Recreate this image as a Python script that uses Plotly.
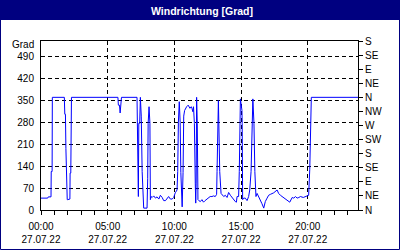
import plotly.graph_objects as go

# ---- data ----
day = "2022-07-27"
times = [
    "00:00", "00:30", "00:33", "00:45", "00:46", "00:50", "00:51", "01:45", "01:47", "01:50",
    "01:52", "01:55", "01:58", "02:00", "02:10", "02:11", "02:14", "02:17", "05:46", "05:48",
    "05:53", "05:56", "06:02", "07:12", "07:14", "07:16", "07:18", "07:20", "07:24", "07:27",
    "07:31", "07:35", "07:38", "07:42", "07:57", "08:00", "08:02", "08:06", "08:10", "08:12",
    "08:15", "08:20", "08:27", "08:35", "08:42", "08:50", "08:57", "09:05", "09:12", "09:20",
    "09:27", "09:34", "09:42", "09:50", "09:57", "10:04", "10:12", "10:15", "10:18", "10:22",
    "10:26", "10:29", "10:35", "10:39", "10:42", "10:46", "10:55", "11:02", "11:10", "11:16",
    "11:19", "11:23", "11:26", "11:30", "11:34", "11:36", "11:38", "11:40", "11:43", "11:46",
    "11:50", "11:57", "12:04", "12:11", "12:18", "12:26", "12:34", "12:41", "12:49", "12:56",
    "13:04", "13:10", "13:12", "13:18", "13:24", "13:30", "13:42", "13:49", "13:57", "14:04",
    "14:12", "14:19", "14:27", "14:34", "14:39", "14:42", "14:49", "14:52", "14:57", "15:00",
    "15:04", "15:05", "15:07", "15:12", "15:19", "15:27", "15:34", "15:39", "15:45", "15:53",
    "15:58", "16:02", "16:07", "16:12", "16:19", "16:27", "16:34", "16:42", "16:49", "16:57",
    "17:04", "17:12", "17:27", "17:42", "17:49", "17:57", "18:12", "18:27", "18:39", "18:50",
    "18:57", "19:05", "19:12", "19:20", "19:27", "19:40", "19:50", "20:04", "20:09", "20:12",
    "20:16", "23:50",
]
values = [
    38, 38, 42, 42, 123, 123, 360, 360, 306, 306,
    197, 86, 33, 33, 35, 118, 118, 360, 360, 335,
    335, 310, 360, 360, 250, 123, 43, 277, 277, 360,
    300, 123, 60, 6, 6, 100, 277, 330, 277, 33,
    43, 40, 45, 38, 42, 35, 47, 40, 30, 30,
    38, 43, 35, 35, 40, 55, 64, 123, 280, 346,
    280, 120, 10, 120, 300, 318, 330, 335, 325, 330,
    325, 314, 330, 277, 86, 22, 86, 360, 277, 33,
    30, 27, 33, 25, 30, 35, 40, 43, 43, 45,
    43, 50, 123, 350, 123, 53, 43, 47, 40, 56,
    47, 40, 33, 27, 25, 43, 43, 123, 355, 340,
    318, 277, 33, 38, 38, 30, 43, 64, 123, 355,
    277, 123, 43, 53, 43, 33, 20, 6, 27, 38,
    47, 50, 55, 64, 53, 47, 40, 33, 25, 40,
    38, 43, 38, 40, 43, 40, 43, 47, 130, 277,
    360, 360,
]

x_tick_times = ["00:00", "05:00", "10:00", "15:00", "20:00"]
x_tick_date = "27.07.22"
x_range = ["00:00", "23:46"]

y_ticks = [0, 70, 140, 210, 280, 350, 420, 490]
y_range = [0, 540]
dir_vals = [0, 45, 90, 135, 180, 225, 270, 315, 360, 405, 450, 495, 540]
dir_text = ["N", "NE", "E", "SE", "S", "SW", "W", "NW", "N", "NE", "E", "SE", "S"]

title = "Windrichtung [Grad]"
unit = "Grad"

# ---- figure ----
W, H = 400, 250
L, R, T, B = 41, 42, 41, 40
pw, ph = W - L - R, H - T - B
NAVY = "#000080"
FONT = "Liberation Sans"
DASH = "4px,3px"


def px(xp):
    return (xp - L) / pw


def py(yp):
    return (H - B - yp) / ph


x = [f"{day} {t}" for t in times]

fig = go.Figure()
fig.add_trace(go.Scatter(x=x, y=values, mode="lines",
                         line=dict(color="#0000ff", width=1), showlegend=False,
                         hoverinfo="skip"))
# invisible trace for right axis
fig.add_trace(go.Scatter(x=[x[0]], y=[0], yaxis="y2", mode="markers",
                         marker=dict(opacity=0), showlegend=False, hoverinfo="skip"))

fig.update_layout(
    width=W, height=H,
    margin=dict(l=L, r=R, t=T, b=B, pad=0, autoexpand=False),
    paper_bgcolor="white", plot_bgcolor="white",
    font=dict(family=FONT, size=10, color="black"),
    xaxis=dict(
        type="date", automargin=False,
        range=[f"{day} {x_range[0]}", f"{day} {x_range[1]}"],
        tickmode="array",
        tickvals=[f"{day} {t}" for t in x_tick_times],
        ticktext=[f"{t}<br>{x_tick_date}" for t in x_tick_times],
        ticks="outside", ticklen=4, tickcolor="black", tickwidth=1,
        showgrid=True, gridcolor="black", griddash=DASH, gridwidth=1,
        showline=True, linecolor="black", linewidth=1, mirror=True,
        zeroline=False,
        minor=dict(tickmode="linear", tick0=f"{day} 00:00", dtick=3600000,
                   ticks="outside", ticklen=4, tickcolor="black", showgrid=False),
        ticklabelstandoff=3,
    ),
    yaxis=dict(
        range=y_range, tickmode="array", tickvals=y_ticks, automargin=False,
        ticks="", showgrid=True, gridcolor="black", griddash=DASH, gridwidth=1,
        showline=True, linecolor="black", linewidth=1, mirror=True,
        zeroline=False, ticklabelstandoff=4,
    ),
    yaxis2=dict(
        range=y_range, overlaying="y", side="right", automargin=False,
        tickmode="array", tickvals=dir_vals, ticktext=dir_text,
        ticks="outside", ticklen=4, tickcolor="black",
        showgrid=False, zeroline=False, showline=True, linecolor="black",
    ),
    shapes=[
        dict(type="rect", xref="paper", yref="paper",
             x0=px(0), x1=px(W), y0=py(20), y1=py(0),
             fillcolor=NAVY, line=dict(width=0), layer="above"),
        dict(type="rect", xref="paper", yref="paper",
             x0=px(0.5), x1=px(W - 0.5), y0=py(H - 0.5), y1=py(0.5),
             fillcolor="rgba(0,0,0,0)", line=dict(color=NAVY, width=1), layer="above"),
    ],
    annotations=[
        dict(text=f"<b>{title}</b>", xref="paper", yref="paper",
             x=px(202), y=py(10.5), xanchor="center", yanchor="middle",
             showarrow=False, font=dict(family=FONT, size=10.5, color="white")),
        dict(text=unit, xref="paper", yref="paper",
             x=px(36), y=py(44.5), xanchor="right", yanchor="middle",
             showarrow=False, font=dict(family=FONT, size=10, color="black")),
    ],
)

fig.write_html("out.html")
